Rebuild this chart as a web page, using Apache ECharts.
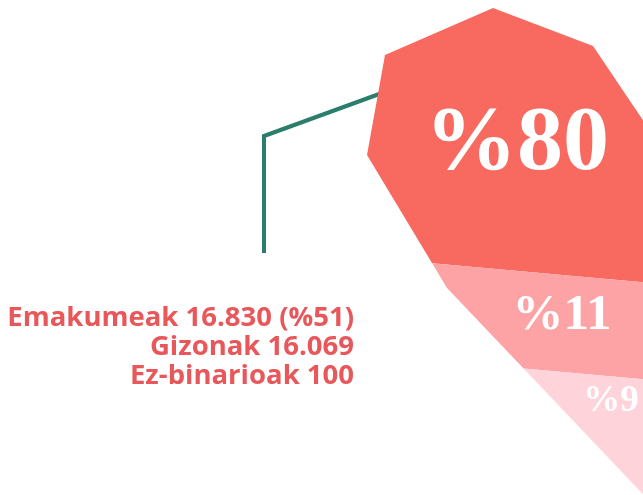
<!DOCTYPE html>
<html><head><meta charset="utf-8">
<script src="https://cdn.jsdelivr.net/npm/echarts@6/dist/echarts.min.js"></script>
<style>html,body{margin:0;padding:0;background:#fff}#c{width:643px;height:495px}</style>
</head><body><div id="c"></div>
<script>
// ---- data ----
const bandLabels = ['%80', '%11', '%9'];
const bandValues = [80, 11, 9];
const legendLines = ['Emakumeak 16.830 (%51)', 'Gizonak 16.069', 'Ez-binarioak 100'];

// ---- styles ----
const BAND_COLORS = ['#f8695f', '#fda3a6', '#fed4da'];
const SHAPE = [[493,8],[593,46],[700,205],[730,470],[698,552],[447,288],[367,155],[385,55]];
const TILT = 0.09, PIVOT_X = 540;
const LABEL_STYLE = [{x: 517, dy: null, shift: 5, size: 92}, {x: 562, dy: 41, size: 51}, {x: 611, dy: 25, size: 37}];
const TEXT_RED = '#e8575a';
const LINE_GREEN = '#2b7d6c';

const cumData = [];
let acc = 0;
bandValues.forEach((v, i) => { cumData.push([i, acc, acc + v]); acc += v; });

function uOf(p) { return p[1] - TILT * (p[0] - PIVOT_X); }
function clipHalf(poly, f) {
  const out = [];
  for (let k = 0; k < poly.length; k++) {
    const a = poly[k], b = poly[(k + 1) % poly.length];
    const fa = f(a), fb = f(b);
    if (fa >= 0) out.push(a);
    if (fa * fb < 0) {
      const t = fa / (fa - fb);
      out.push([a[0] + (b[0] - a[0]) * t, a[1] + (b[1] - a[1]) * t]);
    }
  }
  return out;
}

const chart = echarts.init(document.getElementById('c'), null, {renderer: 'canvas'});
chart.setOption({
  animation: false,
  grid: {left: 0, right: 0, top: 184.8, bottom: 45.6, containLabel: false},
  xAxis: {type: 'value', show: false, min: 0, max: 1},
  yAxis: {type: 'value', show: false, min: 70, max: 100, inverse: true},
  graphic: [
    {type: 'polyline', z: 1, shape: {points: [[264,253],[264,136],[382,93]]},
      style: {stroke: LINE_GREEN, lineWidth: 4, fill: null}},
    ...legendLines.map((t, i) => ({
      type: 'text', z: 5, x: 354, y: 318.5 + i * 28.8,
      style: {text: t, align: 'right', verticalAlign: 'middle',
        font: 'bold 27.5px "Open Sans"', fill: TEXT_RED}
    }))
  ],
  series: [{
    type: 'custom',
    coordinateSystem: 'cartesian2d',
    clip: false,
    z: 3,
    data: cumData,
    renderItem: function (params, api) {
      const i = params.dataIndex;
      const n = bandValues.length;
      const yTop = api.coord([0, api.value(1)])[1];
      const yBot = api.coord([0, api.value(2)])[1];
      let poly = SHAPE.slice();
      if (i > 0) poly = clipHalf(poly, p => uOf(p) - yTop);
      if (i < n - 1) poly = clipHalf(poly, p => yBot - uOf(p));
      const us = poly.map(uOf);
      const minU = Math.min.apply(null, us), maxU = Math.max.apply(null, us);
      const ls = LABEL_STYLE[i];
      const lu = ls.dy == null ? (minU + maxU) / 2 + (ls.shift || 0) : yTop + ls.dy;
      const ly = lu + TILT * (ls.x - PIVOT_X);
      return {
        type: 'group',
        children: [
          {type: 'polygon', shape: {points: poly}, style: {fill: BAND_COLORS[i]}},
          {type: 'text', x: ls.x, y: ly, z2: 10,
            style: {text: bandLabels[i], align: 'center', verticalAlign: 'middle',
              font: 'bold ' + ls.size + 'px "Liberation Serif"', fill: '#ffffff'}}
        ]
      };
    }
  }]
});
</script></body></html>
